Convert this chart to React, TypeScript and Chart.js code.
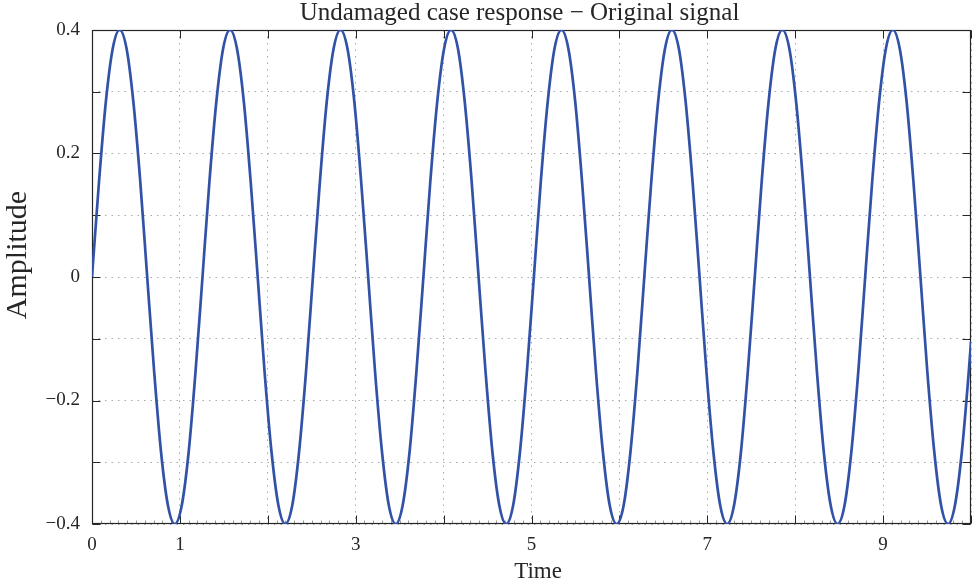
import { useEffect, useRef } from 'react';
import { Chart, registerables } from 'chart.js';

Chart.register(...registerables);

// Sample times (s), 1/16 period apart, plus the end point
const TIME = [
  0, 0.079, 0.157, 0.236, 0.314, 0.393, 0.471, 0.55, 0.628, 0.707, 0.785, 0.864, 0.942, 1.021, 1.1, 1.178,
  1.257, 1.335, 1.414, 1.492, 1.571, 1.649, 1.728, 1.806, 1.885, 1.963, 2.042, 2.121, 2.199, 2.278, 2.356, 2.435,
  2.513, 2.592, 2.67, 2.749, 2.827, 2.906, 2.985, 3.063, 3.142, 3.22, 3.299, 3.377, 3.456, 3.534, 3.613, 3.691,
  3.77, 3.848, 3.927, 4.006, 4.084, 4.163, 4.241, 4.32, 4.398, 4.477, 4.555, 4.634, 4.712, 4.791, 4.869, 4.948,
  5.027, 5.105, 5.184, 5.262, 5.341, 5.419, 5.498, 5.576, 5.655, 5.733, 5.812, 5.89, 5.969, 6.048, 6.126, 6.205,
  6.283, 6.362, 6.44, 6.519, 6.597, 6.676, 6.754, 6.833, 6.912, 6.99, 7.069, 7.147, 7.226, 7.304, 7.383, 7.461,
  7.54, 7.618, 7.697, 7.775, 7.854, 7.933, 8.011, 8.09, 8.168, 8.247, 8.325, 8.404, 8.482, 8.561, 8.639, 8.718,
  8.796, 8.875, 8.954, 9.032, 9.111, 9.189, 9.268, 9.346, 9.425, 9.503, 9.582, 9.66, 9.739, 9.817, 9.896, 9.975,
  10,
];

// Amplitude at each sample time
const AMPLITUDE = [
  0, 0.153, 0.283, 0.37, 0.4, 0.37, 0.283, 0.153, 0, -0.153, -0.283, -0.37, -0.4, -0.37, -0.283, -0.153,
  0, 0.153, 0.283, 0.37, 0.4, 0.37, 0.283, 0.153, 0, -0.153, -0.283, -0.37, -0.4, -0.37, -0.283, -0.153,
  0, 0.153, 0.283, 0.37, 0.4, 0.37, 0.283, 0.153, 0, -0.153, -0.283, -0.37, -0.4, -0.37, -0.283, -0.153,
  0, 0.153, 0.283, 0.37, 0.4, 0.37, 0.283, 0.153, 0, -0.153, -0.283, -0.37, -0.4, -0.37, -0.283, -0.153,
  0, 0.153, 0.283, 0.37, 0.4, 0.37, 0.283, 0.153, 0, -0.153, -0.283, -0.37, -0.4, -0.37, -0.283, -0.153,
  0, 0.153, 0.283, 0.37, 0.4, 0.37, 0.283, 0.153, 0, -0.153, -0.283, -0.37, -0.4, -0.37, -0.283, -0.153,
  0, 0.153, 0.283, 0.37, 0.4, 0.37, 0.283, 0.153, 0, -0.153, -0.283, -0.37, -0.4, -0.37, -0.283, -0.153,
  0, 0.153, 0.283, 0.37, 0.4, 0.37, 0.283, 0.153, 0, -0.153, -0.283, -0.37, -0.4, -0.37, -0.283, -0.153,
  -0.105,
];

const X_TICK_LABELS = [0, 1, 3, 5, 7, 9];
const Y_TICK_LABELS = [-0.4, -0.2, 0, 0.2, 0.4];

const TITLE = 'Undamaged case response \u2212 Original signal';
const X_TITLE = 'Time';
const Y_TITLE = 'Amplitude';

const FONT = '"Liberation Serif", "Times New Roman", Times, serif';
const INK = '#262626';

const fmtY = (v: number) => {
  if (Math.abs(v) < 1e-9) return '0';
  return (v < 0 ? '\u2212' : '') + Math.abs(v).toFixed(1);
};

const framePlugin = {
  id: 'frame',
  beforeDatasetsDraw(chart: any) {
    const { ctx, chartArea: a, scales } = chart;
    const xs = scales.x;
    const ys = scales.y;
    const L = Math.round(a.left) + 0.5;
    const R = Math.round(a.right) - 0.5;
    const T = Math.round(a.top) + 0.5;
    const B = Math.round(a.bottom) - 0.5;
    ctx.save();
    ctx.lineWidth = 1;
    // minor ticks along the bottom
    ctx.strokeStyle = '#9a9a9a';
    for (let i = 0; i <= 100; i++) {
      const px = Math.round(xs.getPixelForValue(xs.min + (xs.max - xs.min) * i / 100)) + 0.5;
      ctx.beginPath();
      ctx.moveTo(px, B);
      ctx.lineTo(px, B - 3);
      ctx.stroke();
    }
    // major ticks, inward
    ctx.strokeStyle = INK;
    xs.ticks.forEach((t: any) => {
      const px = Math.round(xs.getPixelForValue(t.value)) + 0.5;
      ctx.beginPath();
      ctx.moveTo(px, B); ctx.lineTo(px, B - 8);
      ctx.moveTo(px, T); ctx.lineTo(px, T + 8);
      ctx.stroke();
    });
    ys.ticks.forEach((t: any) => {
      const py = Math.round(ys.getPixelForValue(t.value)) + 0.5;
      ctx.beginPath();
      ctx.moveTo(L, py); ctx.lineTo(L + 8, py);
      ctx.moveTo(R, py); ctx.lineTo(R - 8, py);
      ctx.stroke();
    });
    // box
    ctx.strokeStyle = INK;
    ctx.lineWidth = 1.2;
    ctx.strokeRect(L, T, R - L, B - T);
    ctx.restore();
  },
  afterDraw(chart: any) {
    const { ctx } = chart;
    ctx.save();
    ctx.fillStyle = INK;
    ctx.textAlign = 'center';
    ctx.textBaseline = 'alphabetic';
    ctx.font = `25px ${FONT}`;
    ctx.fillText(TITLE, 519.5, 20);
    ctx.font = `23px ${FONT}`;
    ctx.fillText(X_TITLE, 538, 578);
    ctx.translate(18, 255);
    ctx.rotate(-Math.PI / 2);
    ctx.textBaseline = 'middle';
    ctx.font = `30px ${FONT}`;
    ctx.fillText(Y_TITLE, 0, 0);
    ctx.restore();
  },
};

export default function App() {
  const ref = useRef<HTMLCanvasElement | null>(null);

  useEffect(() => {
    if (!ref.current) return;
    const chart = new Chart(ref.current, {
      type: 'line',
      data: {
        datasets: [
          {
            label: 'Original signal',
            data: TIME.map((t, i) => ({ x: t, y: AMPLITUDE[i] })),
            borderColor: '#3252a8',
            backgroundColor: '#3252a8',
            borderWidth: 2.7,
            pointRadius: 0,
            cubicInterpolationMode: 'monotone',
            fill: false,
          },
        ],
      },
      options: {
        animation: false,
        responsive: true,
        maintainAspectRatio: false,
        layout: { autoPadding: false, padding: { top: 30, left: 0, right: 1, bottom: 0 } },
        plugins: {
          legend: { display: false },
          title: { display: false },
          tooltip: { enabled: false },
        },
        scales: {
          x: {
            type: 'linear',
            min: 0,
            max: 10,
            afterFit: (s: any) => { s.height = 60; s.paddingLeft = 0; s.paddingRight = 0; },
            ticks: {
              stepSize: 1,
              autoSkip: false,
              maxRotation: 0,
              padding: 10,
              color: INK,
              font: { family: FONT, size: 19 },
              callback: (v: any) => (X_TICK_LABELS.includes(Number(v)) ? String(v) : ''),
            },
            grid: { color: '#a8a8a8', lineWidth: 1, drawTicks: false },
            border: { display: false, dash: [1.5, 5] },
          },
          y: {
            type: 'linear',
            min: -0.4,
            max: 0.4,
            afterFit: (s: any) => { s.width = 92; s.paddingTop = 0; s.paddingBottom = 0; },
            ticks: {
              stepSize: 0.1,
              autoSkip: false,
              padding: 12,
              color: INK,
              font: { family: FONT, size: 19 },
              callback: (v: any) => {
                const hit = Y_TICK_LABELS.find((l) => Math.abs(l - Number(v)) < 1e-6);
                return hit === undefined ? '' : fmtY(hit);
              },
            },
            grid: { color: '#a8a8a8', lineWidth: 1, drawTicks: false },
            border: { display: false, dash: [1.5, 5] },
          },
        },
      },
      plugins: [framePlugin],
    } as any);
    return () => chart.destroy();
  }, []);

  return (
    <div style={{ position: 'absolute', left: 0, top: 0, width: 972, height: 584, background: '#fff' }}>
      <canvas ref={ref} />
    </div>
  );
}
